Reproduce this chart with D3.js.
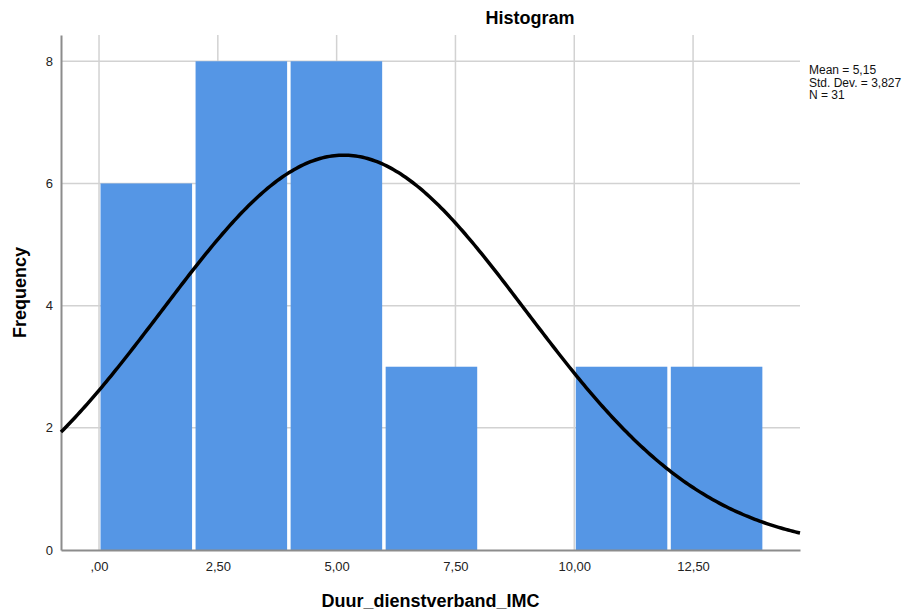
<!DOCTYPE html>
<html lang="nl">
<head>
    <meta charset="UTF-8">
    <title>Histogram</title>
    <script src="https://cdn.jsdelivr.net/npm/d3@7"></script>
    <style>
        body { margin: 0; background: #fff; }
        text { font-family: "Liberation Sans", Arial, sans-serif; }
    </style>
</head>
<body>
<script>
    // data
    var binStarts = [0, 2, 4, 6, 8, 10, 12];
    var binWidth = 2;
    var counts = [6, 8, 8, 3, 0, 3, 3];
    var xTicks = [0, 2.5, 5, 7.5, 10, 12.5];
    var yTicks = [0, 2, 4, 6, 8];
    var mean = 5.15, stdDev = 3.827, n = 31;
    var statLines = ["Mean = 5,15", "Std. Dev. = 3,827", "N = 31"];

    var width = 919, height = 613;
    var plotLeft = 61, plotRight = 800, plotTop = 35, plotBottom = 550;

    var svg = d3.select("body").append("svg")
        .attr("width", width)
        .attr("height", height);

    var x = d3.scaleLinear().domain([-0.8, 14.75]).range([plotLeft, plotRight]);
    var y = d3.scaleLinear().domain([0, 8.43]).range([plotBottom, plotTop]);

    var fmt = function (d) {
        var s = d3.format(".2f")(d).replace(".", ",");
        return s.replace(/^0,/, ",");
    };

    // gridlines
    svg.append("g").selectAll("line")
        .data(xTicks).enter().append("line")
        .attr("x1", d => x(d)).attr("x2", d => x(d))
        .attr("y1", plotTop).attr("y2", plotBottom)
        .attr("stroke", "#d2d2d2").attr("stroke-width", 1.5);
    svg.append("g").selectAll("line")
        .data(yTicks.filter(d => d > 0)).enter().append("line")
        .attr("x1", plotLeft).attr("x2", plotRight)
        .attr("y1", d => y(d)).attr("y2", d => y(d))
        .attr("stroke", "#d2d2d2").attr("stroke-width", 1.5);

    // bars
    svg.append("g").selectAll("rect")
        .data(binStarts).enter().append("rect")
        .attr("x", d => x(d) + 1.5)
        .attr("width", x(binWidth) - x(0) - 3.5)
        .attr("y", (d, i) => y(counts[i]))
        .attr("height", (d, i) => y(0) - y(counts[i]))
        .attr("fill", "#5596e5");

    // axes
    var yAxis = svg.append("g")
        .attr("transform", "translate(" + plotLeft + ",0)")
        .call(d3.axisLeft(y).tickValues(yTicks).tickSize(0).tickPadding(8).tickFormat(d3.format("d")));
    var xAxis = svg.append("g")
        .attr("transform", "translate(0," + plotBottom + ")")
        .call(d3.axisBottom(x).tickValues(xTicks).tickSize(0).tickPadding(12).tickFormat(fmt));
    [yAxis, xAxis].forEach(function (g) {
        g.select(".domain").attr("stroke", "#8c8c8c").attr("stroke-width", 2);
        g.selectAll("text").attr("font-size", 13).attr("fill", "#222")
            .style("font-family", "'Liberation Sans', Arial, sans-serif");
    });

    // normal curve
    var curvePts = d3.range(x.domain()[0], x.domain()[1] + 0.01, 0.05).map(function (v) {
        var z = (v - mean) / stdDev;
        return [v, n * binWidth / (stdDev * Math.sqrt(2 * Math.PI)) * Math.exp(-0.5 * z * z)];
    });
    svg.append("path")
        .datum(curvePts)
        .attr("fill", "none")
        .attr("stroke", "#000")
        .attr("stroke-width", 3.5)
        .attr("d", d3.line().x(d => x(d[0])).y(d => y(d[1])));

    // titles
    svg.append("text").attr("x", 530).attr("y", 24)
        .attr("text-anchor", "middle").attr("font-size", 18).attr("font-weight", "bold")
        .text("Histogram");
    svg.append("text").attr("x", (plotLeft + plotRight) / 2).attr("y", 607)
        .attr("text-anchor", "middle").attr("font-size", 18).attr("font-weight", "bold")
        .text("Duur_dienstverband_IMC");
    svg.append("text")
        .attr("transform", "translate(26," + (plotTop + plotBottom) / 2 + ") rotate(-90)")
        .attr("text-anchor", "middle").attr("font-size", 18).attr("font-weight", "bold")
        .text("Frequency");

    // stats
    svg.append("g").selectAll("text")
        .data(statLines).enter().append("text")
        .attr("x", 809).attr("y", (d, i) => 74 + i * 12.5)
        .attr("font-size", 12).attr("fill", "#111")
        .text(d => d);
</script>
</body>
</html>
